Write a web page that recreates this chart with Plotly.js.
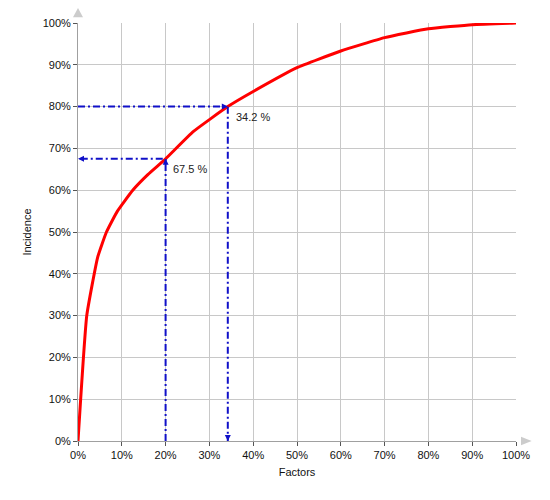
<!DOCTYPE html>
<html>
<head>
<meta charset="utf-8">
<script src="https://cdn.plot.ly/plotly-3.0.1.min.js"></script>
<style>html,body{margin:0;padding:0;background:#fff;}#chart{width:550px;height:500px;}</style>
</head>
<body>
<div id="chart"></div>
<script>
// Cumulative curve (Factors % vs Incidence %)
var curveX = [0, 2, 4.5, 6.5, 9, 12.5, 16, 20, 26.3, 34.2, 40, 50, 60, 70, 80, 90, 100];
var curveY = [0, 30, 44, 50, 55, 60, 63.8, 67.5, 74, 80, 83.6, 89.3, 93.3, 96.5, 98.6, 99.6, 100];
// Read-outs: factor -> incidence, incidence -> factor
var readFactor = [20, 34.2];
var readIncidence = [67.5, 80];
var readLabels = ['67.5 %', '34.2 %'];
var tickVals = [0, 10, 20, 30, 40, 50, 60, 70, 80, 90, 100];
var tickText = ['0%', '10%', '20%', '30%', '40%', '50%', '60%', '70%', '80%', '90%', '100%'];

var blue = '#1010c8';
var dashPat = '7px,3px,2px,3px';

var traces = [
  {x: curveX, y: curveY, mode: 'lines', line: {color: '#ff0000', width: 3, shape: 'spline', smoothing: 0.4}, hoverinfo: 'skip'},
  // read-out 1: up from factor, left to incidence
  {x: [readFactor[0], readFactor[0], 0], y: [0, readIncidence[0], readIncidence[0]], mode: 'lines',
   line: {color: blue, width: 2, dash: dashPat}},
  // read-out 2: right from incidence, down to factor
  {x: [0, readFactor[1], readFactor[1]], y: [readIncidence[1], readIncidence[1], 0], mode: 'lines',
   line: {color: blue, width: 2, dash: dashPat}}
];

function arrow(x, y, ax, ay) {
  return {x: x, y: y, xref: 'x', yref: 'y', text: '', showarrow: true, ax: ax, ay: ay,
          arrowhead: 2, arrowsize: 0.8, arrowwidth: 1.5, arrowcolor: blue, standoff: 0};
}

var annotations = [
  arrow(readFactor[0], readIncidence[0], 0, 6),
  arrow(0, readIncidence[0], 6, 0),
  arrow(readFactor[1], readIncidence[1], -6, 0),
  arrow(readFactor[1], 0, 0, -6),
  {x: readFactor[0], y: readIncidence[0], xref: 'x', yref: 'y', text: readLabels[0], showarrow: false,
   xanchor: 'left', yanchor: 'top', xshift: 5, yshift: -2, font: {size: 11, color: '#222'}},
  {x: readFactor[1], y: readIncidence[1], xref: 'x', yref: 'y', text: readLabels[1], showarrow: false,
   xanchor: 'left', yanchor: 'top', xshift: 6, yshift: -2, font: {size: 11, color: '#222'}}
];

var shapes = [
  {type: 'path', xref: 'paper', yref: 'paper', path: 'M -0.0114 1.014 L 0.0114 1.014 L 0 1.036 Z',
   fillcolor: '#cccccc', line: {width: 0}},
  {type: 'path', xref: 'paper', yref: 'paper', path: 'M 1.0114 0.0100 L 1.0114 -0.0100 L 1.0358 0 Z',
   fillcolor: '#cccccc', line: {width: 0}}
];

var axisCommon = {
  range: [0, 100], tickmode: 'array', tickvals: tickVals, ticktext: tickText, showgrid: true, gridcolor: '#c8c8c8', gridwidth: 1,
  showline: true, linecolor: '#a0a0a0', linewidth: 1, ticks: 'outside', ticklen: 4, tickcolor: '#555',
  zeroline: false, fixedrange: true, tickfont: {size: 11, color: '#111'}, automargin: false
};

var layout = {
  width: 550, height: 500,
  margin: {l: 78, r: 34, t: 23, b: 59},
  paper_bgcolor: '#ffffff', plot_bgcolor: '#ffffff',
  font: {family: 'Liberation Sans, Arial, sans-serif', size: 11, color: '#111'},
  showlegend: false,
  xaxis: Object.assign({}, axisCommon, {title: {text: 'Factors', font: {size: 11, color: '#111'}, standoff: 8}}),
  yaxis: Object.assign({}, axisCommon, {title: {text: 'Incidence', font: {size: 11, color: '#111'}, standoff: 8}}),
  annotations: annotations,
  shapes: shapes
};

Plotly.newPlot('chart', traces, layout, {displayModeBar: false, staticPlot: true});
</script>
</body>
</html>
